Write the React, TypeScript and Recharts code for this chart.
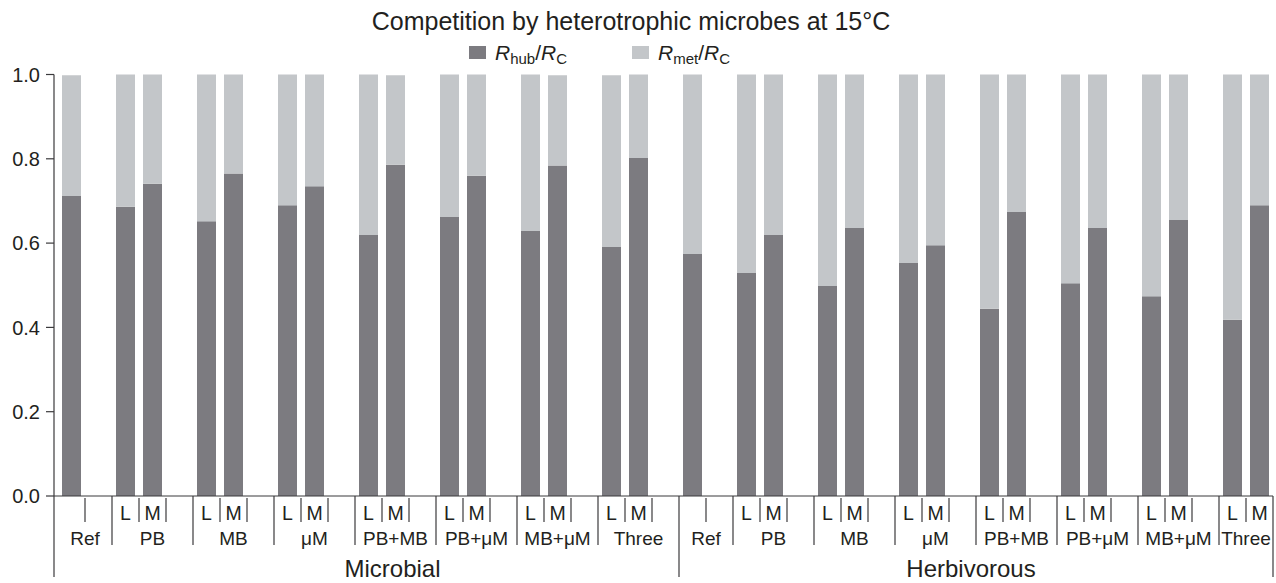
import React from 'react';
import { BarChart, Bar, XAxis, YAxis, Legend } from 'recharts';

const sections = ['Microbial', 'Herbivorous'];
const groups = ['Ref', 'PB', 'MB', 'μM', 'PB+MB', 'PB+μM', 'MB+μM', 'Three'];
const levels = ['L', 'M'];

// bar order inside a section: Ref, PB L, PB M, MB L, MB M, ... Three L, Three M
const hubMicrobial = [0.712, 0.686, 0.741, 0.652, 0.765, 0.69, 0.735, 0.619, 0.786, 0.662, 0.76, 0.629, 0.784, 0.591, 0.802];
const metMicrobial = [0.286, 0.314, 0.259, 0.348, 0.235, 0.31, 0.265, 0.381, 0.212, 0.338, 0.24, 0.371, 0.214, 0.407, 0.198];
const hubHerbivorous = [0.574, 0.529, 0.619, 0.498, 0.636, 0.553, 0.595, 0.444, 0.674, 0.505, 0.636, 0.474, 0.655, 0.418, 0.69];
const metHerbivorous = [0.426, 0.471, 0.381, 0.502, 0.364, 0.447, 0.405, 0.556, 0.326, 0.495, 0.364, 0.526, 0.345, 0.582, 0.31];

const yTicks = [0, 0.2, 0.4, 0.6, 0.8, 1.0];

const W = 1276;
const H = 583;
const TOP = 74.5;
const RIGHT = 3;
const Y_AXIS_W = 54;
const X_AXIS_H = 87;
const PAD_L = 4;

const DARK = '#7c7b80';
const LIGHT = '#c3c6c9';
const INK = '#231f20';
const LINE = '#3b3a3c';
const FONT = '"Liberation Sans", Arial, Helvetica, sans-serif';

const SECTION_LABEL_SHIFT = [26, -5];

type Slot = {
  id: string;
  section: number;
  group: number;
  sub: string;
  hub?: number;
  met?: number;
  groupStart?: boolean;
  groupSize?: number;
  sectionStart?: boolean;
  sectionSize?: number;
  last?: boolean;
};

const slots: Slot[] = [];
sections.forEach((sec, s) => {
  const hub = s === 0 ? hubMicrobial : hubHerbivorous;
  const met = s === 0 ? metMicrobial : metHerbivorous;
  let k = 0;
  const secCells: Slot[] = [];
  groups.forEach((g, gi) => {
    const lastGroup = s === sections.length - 1 && gi === groups.length - 1;
    const subs = gi === 0 ? [''] : levels;
    const cells: Slot[] = subs.map((sub) => {
      const c: Slot = { id: `${sec}-${g}-${sub}`, section: s, group: gi, sub, hub: hub[k], met: met[k] };
      k++;
      return c;
    });
    if (!lastGroup) cells.push({ id: `${sec}-${g}-gap`, section: s, group: gi, sub: '' });
    cells[0].groupStart = true;
    cells[0].groupSize = cells.length;
    secCells.push(...cells);
  });
  secCells[0].sectionStart = true;
  secCells[0].sectionSize = secCells.length;
  slots.push(...secCells);
});
slots[slots.length - 1].last = true;

const slotById: Record<string, Slot> = {};
slots.forEach((s) => (slotById[s.id] = s));

const SLOT = (W - RIGHT - Y_AXIS_W - PAD_L) / slots.length;

const AxisTick = (props: any) => {
  const { x, y, payload } = props;
  const slot = slotById[payload.value];
  if (!slot) return null;
  const left = x - SLOT / 2;
  const txt = { fill: INK, fontFamily: FONT, textAnchor: 'middle' as const };
  let boundary: React.ReactNode = null;
  if (slot.sectionStart) {
    const bx = slot.section === 0 ? left - PAD_L : left;
    boundary = <line x1={bx} x2={bx} y1={y} y2={y + 81} stroke={LINE} strokeWidth={1.2} />;
  } else if (slot.groupStart) {
    boundary = <line x1={left} x2={left} y1={y} y2={y + 49} stroke={LINE} strokeWidth={1.2} />;
  } else {
    boundary = <line x1={left} x2={left} y1={y + 2} y2={y + 26} stroke={LINE} strokeWidth={1.2} />;
  }
  let secLabel: React.ReactNode = null;
  if (slot.sectionStart) {
    const sx0 = slot.section === 0 ? left - PAD_L : left;
    const sx1 = left + (slot.sectionSize || 0) * SLOT;
    secLabel = (
      <text x={(sx0 + sx1) / 2 + SECTION_LABEL_SHIFT[slot.section]} y={y + 81} fontSize={24} {...txt}>
        {sections[slot.section]}
      </text>
    );
  }
  return (
    <g>
      {boundary}
      {slot.last && (
        <line x1={left + SLOT} x2={left + SLOT} y1={y} y2={y + 81} stroke={LINE} strokeWidth={1.2} />
      )}
      {slot.sub && (
        <text x={x} y={y + 24} fontSize={19.5} {...txt}>
          {slot.sub}
        </text>
      )}
      {slot.groupStart && (
        <text x={left + ((slot.groupSize || 0) * SLOT) / 2} y={y + 49} fontSize={19} {...txt}>
          {groups[slot.group]}
        </text>
      )}
      {secLabel}
    </g>
  );
};

const legendItems = [
  { color: DARK, sub: 'hub', x: 469 },
  { color: LIGHT, sub: 'met', x: 632 },
];

const renderLegend = () => (
  <div style={{ position: 'relative', width: W, height: 30, fontFamily: FONT, color: INK }}>
    {legendItems.map((it) => (
      <div key={it.sub} style={{ position: 'absolute', left: it.x, top: 0, height: 30 }}>
        <span
          style={{ position: 'absolute', left: 0, top: 6, width: 17, height: 13, background: it.color }}
        />
        <span style={{ position: 'absolute', left: 26, top: 2, fontSize: 21, lineHeight: '21px', whiteSpace: 'nowrap' }}>
          <i>R</i>
          <span style={{ fontSize: 15, position: 'relative', top: 4 }}>{it.sub}</span>/<i>R</i>
          <span style={{ fontSize: 15, position: 'relative', top: 4 }}>C</span>
        </span>
      </div>
    ))}
  </div>
);

export default function App() {
  return (
    <div style={{ position: 'absolute', left: 0, top: 0, width: W, height: H, background: '#fff', fontFamily: FONT, overflow: 'hidden' }}>
      <div
        style={{ position: 'absolute', left: 0, top: 9, width: 1262, textAlign: 'center', fontSize: 25, lineHeight: '25px', color: INK }}
      >
        Competition by heterotrophic microbes at 15°C
      </div>
      <BarChart
        width={W}
        height={H}
        data={slots}
        margin={{ top: TOP, right: RIGHT, left: 0, bottom: 0 }}
        barSize={19}
      >
        <XAxis
          dataKey="id"
          type="category"
          interval={0}
          height={X_AXIS_H}
          padding={{ left: PAD_L, right: 0 }}
          tickLine={false}
          tickSize={0}
          tickMargin={0}
          axisLine={{ stroke: LINE, strokeWidth: 1.2 }}
          tick={(p: any) => <AxisTick {...p} />}
        />
        <YAxis
          width={Y_AXIS_W}
          domain={[0, 1]}
          ticks={yTicks}
          interval={0}
          tickFormatter={(v: number) => v.toFixed(1)}
          tickSize={8}
          tickMargin={6}
          axisLine={{ stroke: LINE, strokeWidth: 1.2 }}
          tickLine={{ stroke: LINE, strokeWidth: 1.2 }}
          tick={{ fill: INK, fontSize: 20, fontFamily: FONT }}
        />
        <Legend
          layout="horizontal"
          verticalAlign="middle"
          align="center"
          content={renderLegend}
          wrapperStyle={{ position: 'absolute', top: 40, left: 0, width: W, height: 30 }}
        />
        <Bar dataKey="hub" stackId="a" fill={DARK} isAnimationActive={false} />
        <Bar dataKey="met" stackId="a" fill={LIGHT} isAnimationActive={false} />
      </BarChart>
    </div>
  );
}
